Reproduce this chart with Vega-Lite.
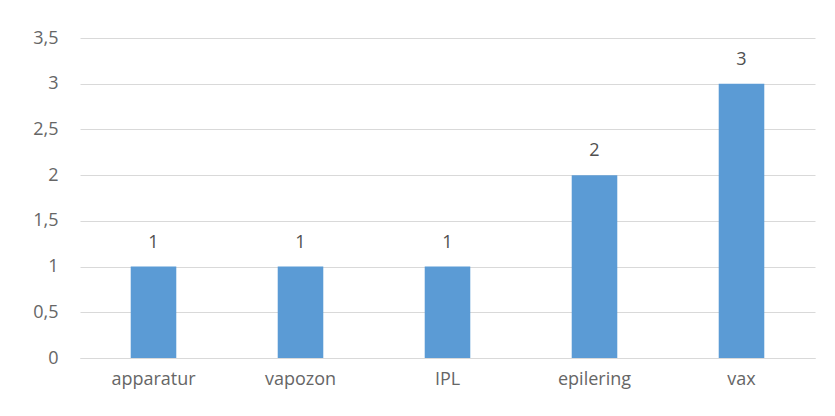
{
  "$schema": "https://vega.github.io/schema/vega-lite/v6.json",
  "autosize": "none",
  "width": 735,
  "height": 320,
  "padding": {"left": 80, "top": 38, "right": 20, "bottom": 58},
  "background": "#ffffff",
  "config": {
    "view": {"stroke": null},
    "font": "Open Sans",
    "axis": {"labelFont": "Open Sans", "labelColor": "#666666", "labelFontSize": 18}
  },
  "data": {
    "values": [
      {"category": "apparatur", "value": 1},
      {"category": "vapozon", "value": 1},
      {"category": "IPL", "value": 1},
      {"category": "epilering", "value": 2},
      {"category": "vax", "value": 3}
    ]
  },
  "encoding": {
    "x": {
      "field": "category",
      "type": "nominal",
      "sort": null,
      "scale": {"paddingInner": 0.69, "paddingOuter": 0.345},
      "axis": {"title": null, "labelAngle": 0, "ticks": false, "domain": true, "domainColor": "#d9d9d9", "labelPadding": 12}
    },
    "y": {
      "field": "value",
      "type": "quantitative",
      "scale": {"domain": [0, 3.5]},
      "axis": {
        "title": null,
        "values": [0, 0.5, 1, 1.5, 2, 2.5, 3, 3.5],
        "labelExpr": "replace(format(datum.value, '~g'), '.', ',')",
        "ticks": false,
        "domain": false,
        "gridColor": "#d9d9d9",
        "labelPadding": 22
      }
    }
  },
  "layer": [
    {"mark": {"type": "bar", "color": "#5b9bd5"}},
    {
      "mark": {"type": "text", "dy": -24, "fontSize": 18, "color": "#505050", "font": "Open Sans"},
      "encoding": {"text": {"field": "value", "type": "quantitative"}}
    }
  ]
}
